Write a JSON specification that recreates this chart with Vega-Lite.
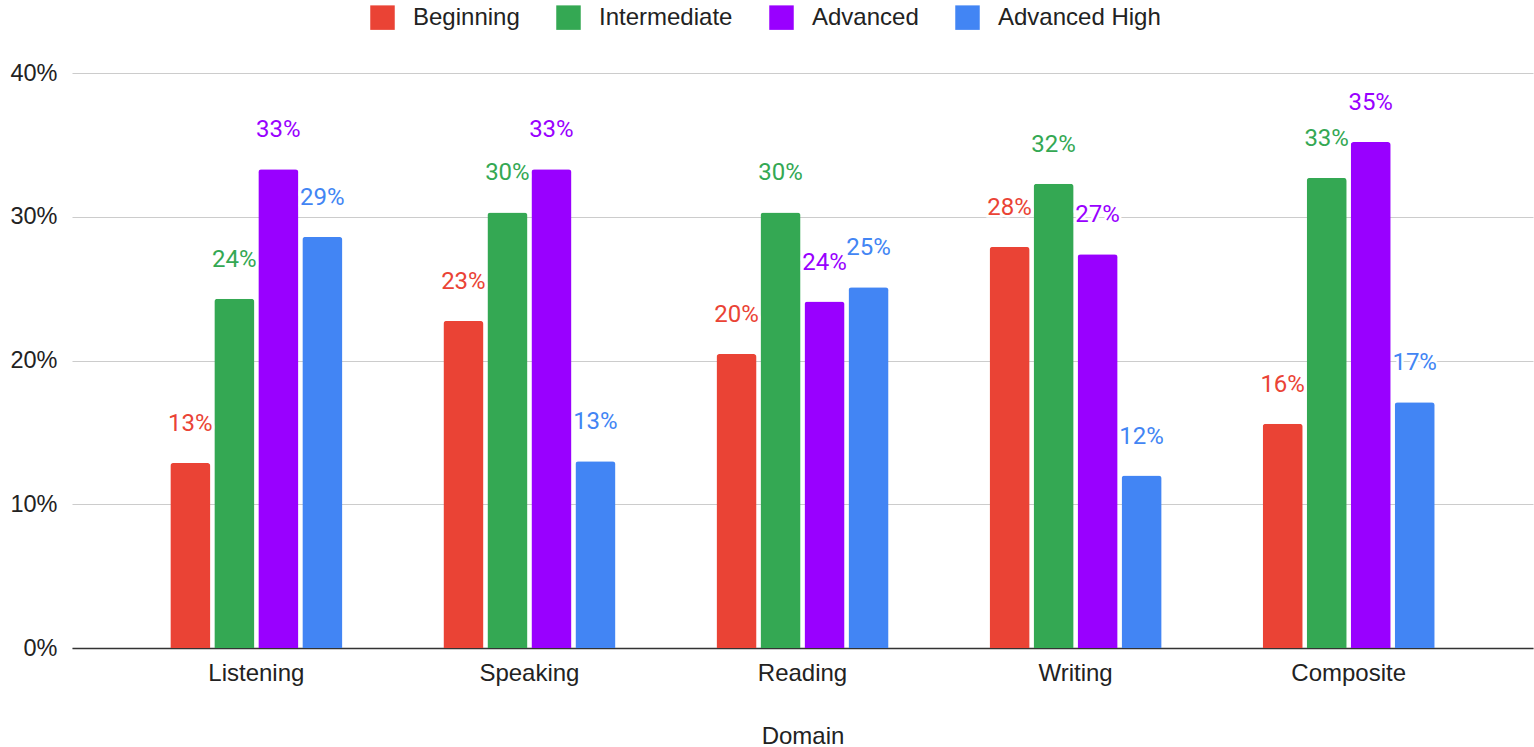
{
  "$schema": "https://vega.github.io/schema/vega-lite/v6.json",
  "width": 1461,
  "height": 575,
  "autosize": {"type": "none"},
  "padding": {"left": 72, "top": 73, "right": 1, "bottom": 99},
  "background": "white",
  "config": {"font": "Liberation Sans", "view": {"stroke": null}},
  "data": {
    "values": [
      {"domain": "Listening", "level": "Beginning", "value": 0.1287},
      {"domain": "Listening", "level": "Intermediate", "value": 0.243},
      {"domain": "Listening", "level": "Advanced", "value": 0.333},
      {"domain": "Listening", "level": "Advanced High", "value": 0.286},
      {"domain": "Speaking", "level": "Beginning", "value": 0.2275},
      {"domain": "Speaking", "level": "Intermediate", "value": 0.303},
      {"domain": "Speaking", "level": "Advanced", "value": 0.333},
      {"domain": "Speaking", "level": "Advanced High", "value": 0.130},
      {"domain": "Reading", "level": "Beginning", "value": 0.2045},
      {"domain": "Reading", "level": "Intermediate", "value": 0.303},
      {"domain": "Reading", "level": "Advanced", "value": 0.241},
      {"domain": "Reading", "level": "Advanced High", "value": 0.251},
      {"domain": "Writing", "level": "Beginning", "value": 0.279},
      {"domain": "Writing", "level": "Intermediate", "value": 0.323},
      {"domain": "Writing", "level": "Advanced", "value": 0.274},
      {"domain": "Writing", "level": "Advanced High", "value": 0.120},
      {"domain": "Composite", "level": "Beginning", "value": 0.156},
      {"domain": "Composite", "level": "Intermediate", "value": 0.327},
      {"domain": "Composite", "level": "Advanced", "value": 0.352},
      {"domain": "Composite", "level": "Advanced High", "value": 0.171}
    ]
  },
  "encoding": {
    "x": {
      "field": "domain",
      "type": "nominal",
      "sort": ["Listening", "Speaking", "Reading", "Writing", "Composite"],
      "scale": {"paddingInner": 0.37, "paddingOuter": 0.36},
      "title": "Domain",
      "axis": {
        "labelAngle": 0,
        "labelFontSize": 24,
        "labelColor": "#222222",
        "labelPadding": 13,
        "ticks": false,
        "domainColor": "#333333",
        "domainWidth": 1.5,
        "titleFontSize": 24,
        "titleFontWeight": "normal",
        "titleColor": "#222222",
        "titlePadding": 39
      }
    },
    "xOffset": {
      "field": "level",
      "type": "nominal",
      "sort": ["Beginning", "Intermediate", "Advanced", "Advanced High"],
      "scale": {"paddingInner": 0.09}
    },
    "y": {
      "field": "value",
      "type": "quantitative",
      "scale": {"domain": [0, 0.4]},
      "title": null,
      "axis": {
        "format": ".0%",
        "values": [0, 0.1, 0.2, 0.3, 0.4],
        "labelFontSize": 23.5,
        "labelColor": "#222222",
        "labelPadding": 15,
        "ticks": false,
        "domain": false,
        "gridColor": "#cccccc",
        "gridWidth": 1.2
      }
    }
  },
  "layer": [
    {
      "mark": {"type": "bar", "cornerRadiusTopLeft": 3, "cornerRadiusTopRight": 3},
      "encoding": {
        "color": {
          "field": "level",
          "type": "nominal",
          "sort": ["Beginning", "Intermediate", "Advanced", "Advanced High"],
          "scale": {
            "domain": ["Beginning", "Intermediate", "Advanced", "Advanced High"],
            "range": ["#EA4335", "#34A853", "#9900FF", "#4285F4"]
          },
          "legend": {
            "orient": "none",
            "legendX": 298,
            "legendY": -68,
            "direction": "horizontal",
            "title": null,
            "symbolType": "square",
            "symbolSize": 600,
            "symbolStrokeWidth": 0,
            "symbolOpacity": 1,
            "labelFontSize": 24,
            "labelLimit": 400,
            "labelColor": "#222222",
            "labelOffset": 18,
            "columnPadding": 36,
            "padding": 0
          }
        }
      }
    },
    {
      "mark": {"type": "text", "fontSize": 24, "font": "Roboto", "dy": -39, "baseline": "middle", "fill": "white", "stroke": "white", "strokeWidth": 5},
      "encoding": {"text": {"field": "value", "type": "quantitative", "format": ".0%"}}
    },
    {
      "mark": {"type": "text", "fontSize": 24, "font": "Roboto", "dy": -39, "baseline": "middle"},
      "encoding": {
        "text": {"field": "value", "type": "quantitative", "format": ".0%"},
        "color": {
          "field": "level",
          "type": "nominal",
          "scale": {
            "domain": ["Beginning", "Intermediate", "Advanced", "Advanced High"],
            "range": ["#EA4335", "#34A853", "#9900FF", "#4285F4"]
          },
          "legend": null
        }
      }
    }
  ]
}
